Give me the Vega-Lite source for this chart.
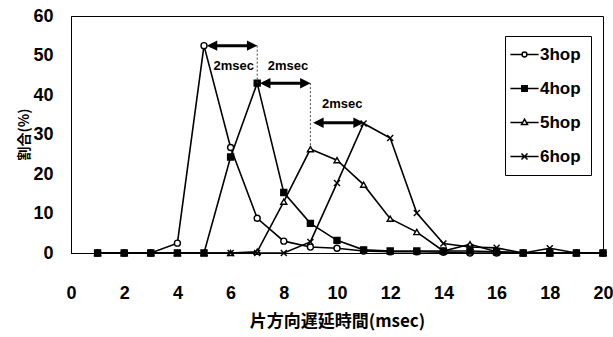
{
  "$schema": "https://vega.github.io/schema/vega-lite/v6.json",
  "width": 532,
  "height": 237,
  "autosize": {"type": "none"},
  "padding": {"left": 71, "top": 16, "right": 10, "bottom": 84},
  "background": "white",
  "config": {
    "view": {"stroke": "black", "strokeWidth": 1},
    "axis": {"grid": false, "domainColor": "black", "tickColor": "black", "labelColor": "black", "titleColor": "black", "labelOverlap": false, "labelSeparation": -30}
  },
  "datasets": {
    "series": [
      {"t": 1, "hop": "3hop", "pct": 0}, {"t": 2, "hop": "3hop", "pct": 0}, {"t": 3, "hop": "3hop", "pct": 0}, {"t": 4, "hop": "3hop", "pct": 2.5},
      {"t": 5, "hop": "3hop", "pct": 52.5}, {"t": 6, "hop": "3hop", "pct": 26.7}, {"t": 7, "hop": "3hop", "pct": 8.8}, {"t": 8, "hop": "3hop", "pct": 3.0},
      {"t": 9, "hop": "3hop", "pct": 1.5}, {"t": 10, "hop": "3hop", "pct": 1.2}, {"t": 11, "hop": "3hop", "pct": 0.5}, {"t": 12, "hop": "3hop", "pct": 0.3},
      {"t": 13, "hop": "3hop", "pct": 0.3}, {"t": 14, "hop": "3hop", "pct": 0.2}, {"t": 15, "hop": "3hop", "pct": 0}, {"t": 16, "hop": "3hop", "pct": 0},
      {"t": 17, "hop": "3hop", "pct": 0}, {"t": 18, "hop": "3hop", "pct": 0}, {"t": 19, "hop": "3hop", "pct": 0}, {"t": 20, "hop": "3hop", "pct": 0},
      {"t": 1, "hop": "5hop", "pct": 0}, {"t": 2, "hop": "5hop", "pct": 0}, {"t": 3, "hop": "5hop", "pct": 0}, {"t": 4, "hop": "5hop", "pct": 0},
      {"t": 5, "hop": "5hop", "pct": 0}, {"t": 6, "hop": "5hop", "pct": 0}, {"t": 7, "hop": "5hop", "pct": 0.3}, {"t": 8, "hop": "5hop", "pct": 13.0},
      {"t": 9, "hop": "5hop", "pct": 26.3}, {"t": 10, "hop": "5hop", "pct": 23.5}, {"t": 11, "hop": "5hop", "pct": 17.3}, {"t": 12, "hop": "5hop", "pct": 8.7},
      {"t": 13, "hop": "5hop", "pct": 5.3}, {"t": 14, "hop": "5hop", "pct": 0.5}, {"t": 15, "hop": "5hop", "pct": 2.2}, {"t": 16, "hop": "5hop", "pct": 0.3},
      {"t": 17, "hop": "5hop", "pct": 0}, {"t": 18, "hop": "5hop", "pct": 0}, {"t": 19, "hop": "5hop", "pct": 0}, {"t": 20, "hop": "5hop", "pct": 0},
      {"t": 1, "hop": "6hop", "pct": 0}, {"t": 2, "hop": "6hop", "pct": 0}, {"t": 3, "hop": "6hop", "pct": 0}, {"t": 4, "hop": "6hop", "pct": 0},
      {"t": 5, "hop": "6hop", "pct": 0}, {"t": 6, "hop": "6hop", "pct": 0}, {"t": 7, "hop": "6hop", "pct": 0}, {"t": 8, "hop": "6hop", "pct": 0},
      {"t": 9, "hop": "6hop", "pct": 2.8}, {"t": 10, "hop": "6hop", "pct": 17.7}, {"t": 11, "hop": "6hop", "pct": 32.8}, {"t": 12, "hop": "6hop", "pct": 29.1},
      {"t": 13, "hop": "6hop", "pct": 10.1}, {"t": 14, "hop": "6hop", "pct": 2.4}, {"t": 15, "hop": "6hop", "pct": 1.5}, {"t": 16, "hop": "6hop", "pct": 1.3},
      {"t": 17, "hop": "6hop", "pct": 0}, {"t": 18, "hop": "6hop", "pct": 1.2}, {"t": 19, "hop": "6hop", "pct": 0}, {"t": 20, "hop": "6hop", "pct": 0},
      {"t": 1, "hop": "4hop", "pct": 0}, {"t": 2, "hop": "4hop", "pct": 0}, {"t": 3, "hop": "4hop", "pct": 0}, {"t": 4, "hop": "4hop", "pct": 0},
      {"t": 5, "hop": "4hop", "pct": 0}, {"t": 6, "hop": "4hop", "pct": 24.3}, {"t": 7, "hop": "4hop", "pct": 43.0}, {"t": 8, "hop": "4hop", "pct": 15.3},
      {"t": 9, "hop": "4hop", "pct": 7.5}, {"t": 10, "hop": "4hop", "pct": 3.2}, {"t": 11, "hop": "4hop", "pct": 0.8}, {"t": 12, "hop": "4hop", "pct": 0.5},
      {"t": 13, "hop": "4hop", "pct": 0.5}, {"t": 14, "hop": "4hop", "pct": 0.5}, {"t": 15, "hop": "4hop", "pct": 0.5}, {"t": 16, "hop": "4hop", "pct": 0.3},
      {"t": 17, "hop": "4hop", "pct": 0}, {"t": 18, "hop": "4hop", "pct": 0}, {"t": 19, "hop": "4hop", "pct": 0}, {"t": 20, "hop": "4hop", "pct": 0}
    ],
    "arrows": [
      {"from": 5, "to": 7, "level": 52.5},
      {"from": 7, "to": 9, "level": 43.0},
      {"from": 9, "to": 11, "level": 33.0}
    ],
    "guides": [
      {"t": 7, "top": 52.5, "bottom": 43.0},
      {"t": 9, "top": 43.0, "bottom": 26.3}
    ],
    "labels": [
      {"t": 6.12, "pct": 47.3, "text": "2msec"},
      {"t": 8.16, "pct": 47.3, "text": "2msec"},
      {"t": 10.2, "pct": 37.6, "text": "2msec"}
    ]
  },
  "resolve": {"scale": {"shape": "independent", "fill": "independent"}, "legend": {"shape": "independent", "fill": "independent"}},
  "layer": [
    {
      "data": {"name": "series"},
      "mark": {"type": "line", "color": "black", "strokeWidth": 1.6},
      "encoding": {
        "x": {
          "field": "t", "type": "quantitative",
          "scale": {"domain": [0, 20], "nice": false, "zero": false},
          "axis": {
            "tickCount": 10,
            "ticks": false, "labelPadding": 31, "labelOverlap": false, "labelFlush": false,
            "labelFont": "Liberation Sans", "labelFontWeight": "bold", "labelFontSize": 18,
            "title": "片方向遅延時間(msec)", "titleFont": "Noto Sans CJK JP", "titleFontWeight": "bold", "titleFontSize": 17, "titlePadding": 11
          }
        },
        "y": {
          "field": "pct", "type": "quantitative",
          "scale": {"domain": [0, 60], "nice": false},
          "axis": {
            "tickCount": 6,
            "ticks": false, "labelPadding": 18, "labelOverlap": false, "labelFlush": false,
            "labelFont": "Liberation Sans", "labelFontWeight": "bold", "labelFontSize": 18,
            "title": "割合(%)", "titleFont": "Noto Sans CJK JP", "titleFontWeight": "bold", "titleFontSize": 14,
            "titleX": -47, "titleY": 118, "titleBaseline": "middle", "titleAlign": "center", "titleAngle": -90
          }
        },
        "detail": {"field": "hop"}
      }
    },
    {
      "data": {"name": "series"},
      "mark": {"type": "point", "filled": true, "stroke": "black", "strokeWidth": 1.4, "size": 36, "opacity": 1},
      "encoding": {
        "x": {"field": "t", "type": "quantitative"},
        "y": {"field": "pct", "type": "quantitative"},
        "shape": {
          "field": "hop", "type": "nominal", "legend": null,
          "scale": {"domain": ["3hop", "4hop", "5hop", "6hop"], "range": ["circle", "square", "triangle-up", "M-1,-1L1,1M-1,1L1,-1"]}
        },
        "fill": {
          "field": "hop", "type": "nominal", "legend": null,
          "scale": {"domain": ["3hop", "4hop", "5hop", "6hop"], "range": ["white", "black", "white", "white"]}
        }
      }
    },
    {
      "data": {"name": "series"},
      "mark": {"type": "point", "filled": false, "stroke": "black", "strokeWidth": 1.5, "size": 36, "opacity": 0},
      "encoding": {
        "x": {"field": "t", "type": "quantitative"},
        "y": {"field": "pct", "type": "quantitative"},
        "shape": {
          "field": "hop", "type": "nominal",
          "scale": {"domain": ["3hop", "4hop", "5hop", "6hop"], "range": [
            "M-4.7,0H-0.8M0.8,0H4.7M0.8,0A0.8,0.8,0,1,1,-0.8,0A0.8,0.8,0,1,1,0.8,0Z",
            "M-4.7,0H4.7M-0.9,-0.9H0.9V0.9H-0.9ZM-0.9,-0.45H0.9M-0.9,0.45H0.9",
            "M-4.7,0H-0.7M0.7,0H4.7M0,-1.1L1,0.7H-1Z",
            "M-4.7,0H4.7M-1,-1L1,1M-1,1L1,-1"
          ]},
          "legend": {
            "title": null, "orient": "none", "legendX": 434, "legendY": 20,
            "strokeColor": "black", "padding": 10, "fillColor": "white",
            "symbolOffset": 1, "labelOffset": 7, "rowPadding": 16,
            "symbolSize": 36, "symbolStrokeColor": "black", "symbolStrokeWidth": 1.5, "symbolOpacity": 1,
            "labelFont": "Liberation Sans", "labelFontWeight": "bold", "labelFontSize": 17, "labelColor": "black",
            "encode": {"symbols": {"update": {"opacity": {"value": 1}, "strokeOpacity": {"value": 1}, "stroke": {"value": "black"}, "fill": {"value": "white"}, "fillOpacity": {"value": 1}}}}
          }
        }
      }
    },
    {
      "data": {"name": "guides"},
      "mark": {"type": "rule", "color": "#444444", "strokeWidth": 1, "strokeDash": [2, 2]},
      "encoding": {
        "x": {"field": "t", "type": "quantitative"},
        "y": {"field": "top", "type": "quantitative"},
        "y2": {"field": "bottom"}
      }
    },
    {
      "data": {"name": "arrows"},
      "mark": {"type": "rule", "color": "black", "strokeWidth": 3, "xOffset": 6, "x2Offset": -6},
      "encoding": {
        "x": {"field": "from", "type": "quantitative"},
        "x2": {"field": "to"},
        "y": {"field": "level", "type": "quantitative"}
      }
    },
    {
      "data": {"name": "arrows"},
      "mark": {"type": "point", "shape": "M1,-1L-1,0L1,1Z", "filled": true, "color": "black", "opacity": 1, "size": 110, "xOffset": 8},
      "encoding": {
        "x": {"field": "from", "type": "quantitative"},
        "y": {"field": "level", "type": "quantitative"}
      }
    },
    {
      "data": {"name": "arrows"},
      "mark": {"type": "point", "shape": "M-1,-1L1,0L-1,1Z", "filled": true, "color": "black", "opacity": 1, "size": 110, "xOffset": -5},
      "encoding": {
        "x": {"field": "to", "type": "quantitative"},
        "y": {"field": "level", "type": "quantitative"}
      }
    },
    {
      "data": {"name": "labels"},
      "mark": {"type": "text", "font": "Liberation Sans", "fontWeight": "bold", "fontSize": 13, "color": "black", "align": "center", "baseline": "middle"},
      "encoding": {
        "x": {"field": "t", "type": "quantitative"},
        "y": {"field": "pct", "type": "quantitative"},
        "text": {"field": "text"}
      }
    }
  ]
}
